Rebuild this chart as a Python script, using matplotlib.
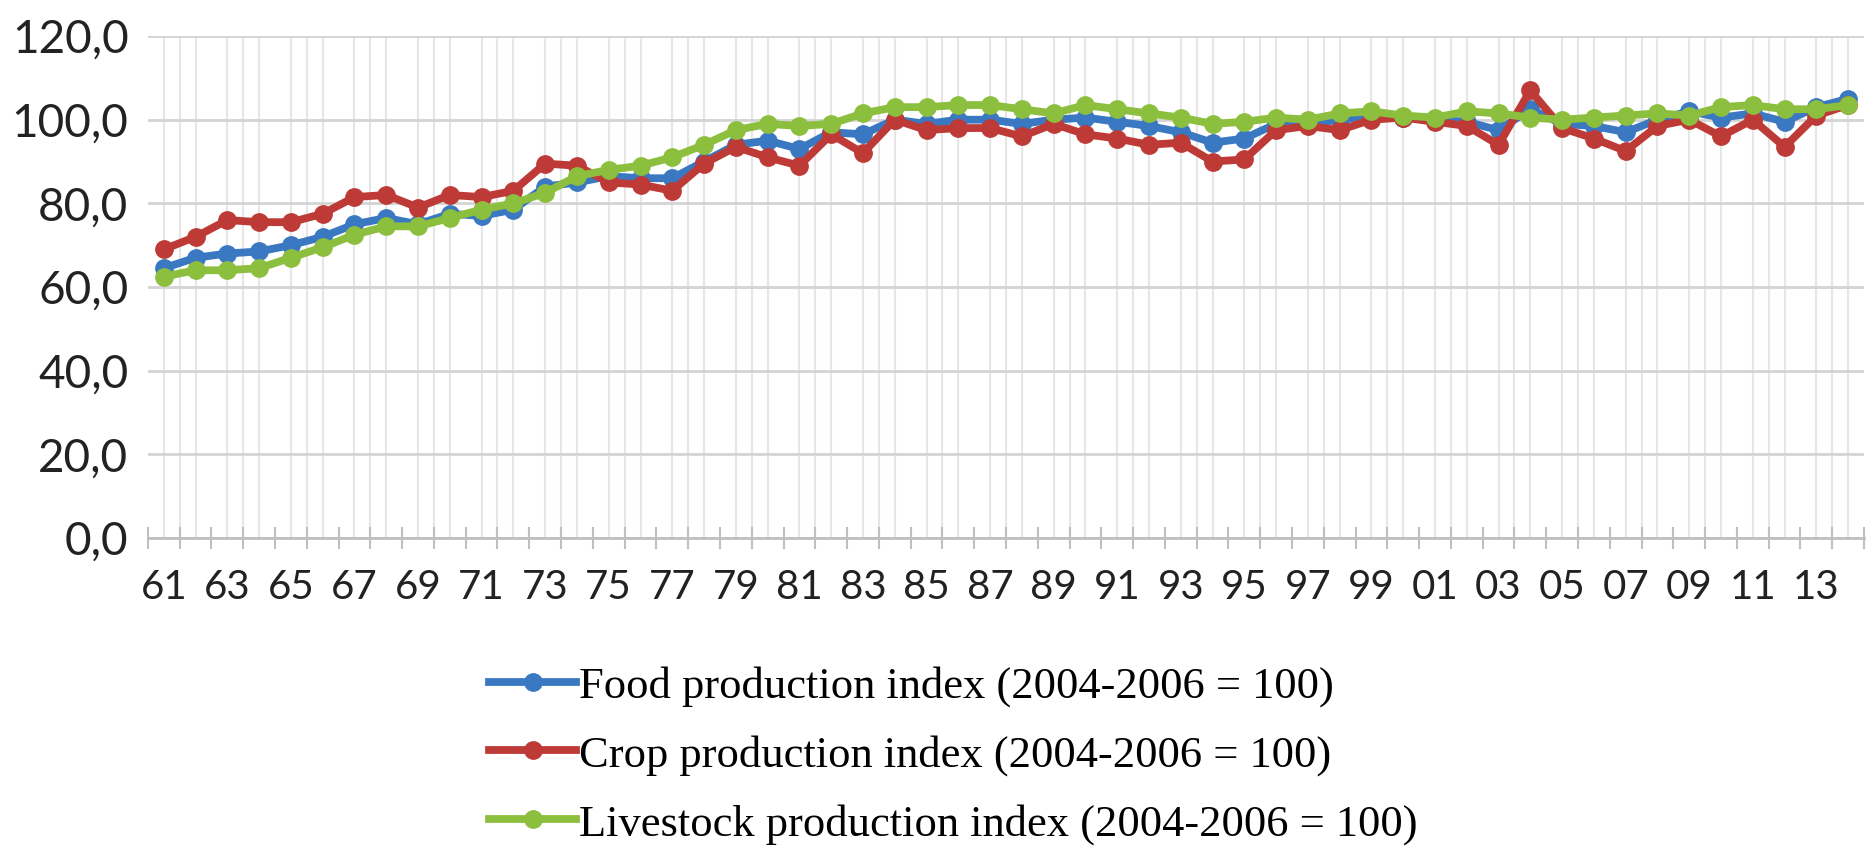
import matplotlib
matplotlib.use("Agg")
import matplotlib.pyplot as plt
from matplotlib.ticker import FixedLocator, FuncFormatter

# years 1961..2014, labels shown as two digits
years = list(range(1961, 2015))

food = [64.5, 67, 68, 68.5, 70, 72, 75, 76.5, 75, 77.5,
        77, 78.5, 84, 85, 86.5, 86, 86, 90, 94, 95,
        93, 97, 96.5, 100, 99, 100, 100, 99, 100, 100.5,
        99.5, 98.5, 97, 94.5, 95.5, 99, 99, 100, 101, 100.5,
        100, 99.5, 97.5, 102.5, 99, 98.5, 97, 100, 102, 100.5,
        101.5, 99.5, 103, 105]

crop = [69, 72, 76, 75.5, 75.5, 77.5, 81.5, 82, 79, 82,
        81.5, 83, 89.5, 89, 85, 84.5, 83, 89.5, 93.5, 91,
        89, 96.5, 92, 100, 97.5, 98, 98, 96, 99, 96.5,
        95.5, 94, 94.5, 90, 90.5, 97.5, 98.5, 97.5, 100, 100.5,
        99.5, 98.5, 94, 107, 98, 95.5, 92.5, 98.5, 100, 96,
        100, 93.5, 101, 103.5]

livestock = [62.5, 64, 64, 64.5, 67, 69.5, 72.5, 74.5, 74.5, 76.5,
             78.5, 80, 82.5, 86.5, 88, 89, 91, 94, 97.5, 99,
             98.5, 99, 101.5, 103, 103, 103.5, 103.5, 102.5, 101.5, 103.5,
             102.5, 101.5, 100.5, 99, 99.5, 100.5, 100, 101.5, 102, 101,
             100.5, 102, 101.5, 100.5, 100, 100.5, 101, 101.5, 101, 103,
             103.5, 102.5, 102.5, 103.5]

labels = ['Food production index (2004-2006 = 100)',
          'Crop production index (2004-2006 = 100)',
          'Livestock production index (2004-2006 = 100)']
colors = ['#3a78c2', '#be3a36', '#8cbf3e']

fig = plt.figure(figsize=(18.7, 8.58), dpi=100)
ax = fig.add_axes([0.0791, 0.373, 0.9177, 0.585])

x = list(range(len(years)))
for vals, lab, col in zip([food, crop, livestock], labels, colors):
    ax.plot(x, vals, color=col, lw=5.6, marker='o', ms=12.5, label=lab, zorder=3)

ax.set_xlim(-0.5, len(years) - 0.5)
ax.set_ylim(0, 120)
ax.set_yticks(range(0, 121, 20))
ax.yaxis.set_major_formatter(FuncFormatter(lambda v, p: f"{v:.1f}".replace('.', ',')))

# tick marks on category boundaries, labels on every other category
ax.xaxis.set_major_locator(FixedLocator([k - 0.5 for k in range(len(years) + 1)]))
ax.xaxis.set_major_formatter(FuncFormatter(lambda v, p: ''))
ax.xaxis.set_minor_locator(FixedLocator(x))
ax.xaxis.set_minor_formatter(FuncFormatter(
    lambda v, p: f"{years[int(round(v))] % 100:02d}" if int(round(v)) % 2 == 0 else ''))

ax.tick_params(axis='x', which='major', direction='inout', length=16, width=1.5, color='#bfbfbf')
ax.tick_params(axis='x', which='minor', length=0, pad=22, labelsize=29)
ax.tick_params(axis='y', length=0, pad=14, labelsize=33)
for t in ax.get_xticklabels(which='minor') + ax.get_yticklabels():
    t.set_fontfamily('Lato')
    t.set_color('#222222')

ax.grid(axis='y', color='#d4d4d4', lw=2, zorder=0)
ax.grid(axis='x', which='minor', color='#e6e6e6', lw=1.5, zorder=0)
for k in range(0, len(years) - 1, 2):
    ax.axvline(k + 0.5, color='#e6e6e6', lw=1.5, zorder=0)

for s in ['top', 'right', 'left']:
    ax.spines[s].set_visible(False)
ax.spines['bottom'].set_color('#bfbfbf')
ax.spines['bottom'].set_linewidth(2)
ax.set_axisbelow(True)

fig.legend(loc='center', bbox_to_anchor=(0.51, 0.12), frameon=False,
           prop={'family': 'Liberation Serif', 'size': 32},
           handlelength=1.95, handletextpad=0.08, labelspacing=0.63,
           alignment='left')

fig.savefig('out.png', dpi=100)
